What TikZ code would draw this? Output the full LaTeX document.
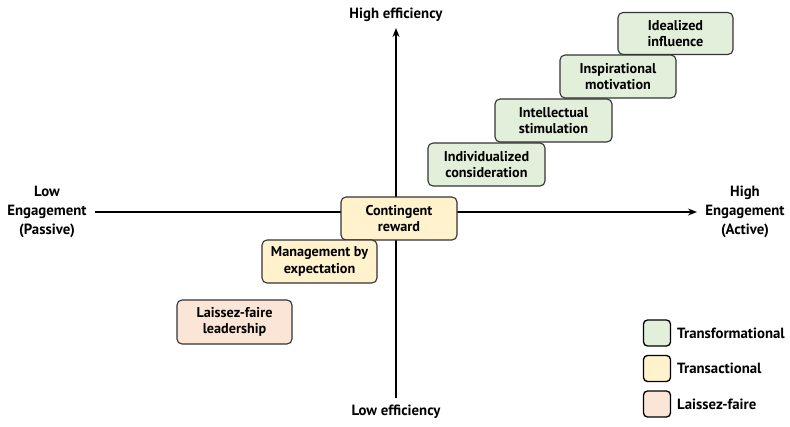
\documentclass[tikz,border=0pt]{standalone}
\usepackage{fontspec}
\setmainfont{PT Sans}
\usetikzlibrary{arrows.meta}
\definecolor{tgreen}{HTML}{E2EFDA}
\definecolor{tyellow}{HTML}{FFF2CC}
\definecolor{tpeach}{HTML}{FBE5D6}
\definecolor{bord}{HTML}{333333}
\tikzset{
  box/.style={draw=bord, line width=1.1pt, rounded corners=5pt, align=center,
    font=\bfseries\fontsize{14.2}{16.5}\selectfont, inner sep=0pt},
  axis/.style={line width=1.8pt, -{Stealth[length=9pt,width=7pt]}},
  lbl/.style={align=center, font=\bfseries\fontsize{14.8}{19}\selectfont, inner sep=0pt},
  legbox/.style={draw=black, line width=1.3pt, rounded corners=4pt, minimum width=27pt, minimum height=26pt, inner sep=0pt},
  legtxt/.style={anchor=west, font=\bfseries\fontsize{14.8}{17}\selectfont, inner sep=0pt}
}
\begin{document}
\begin{tikzpicture}[x=1pt,y=-1pt]
\useasboundingbox (0,0) rectangle (790,426);
% axis labels
\node[lbl] (he) at (396,15) {High efficiency};
\node[lbl] (le) at (396,412) {Low efficiency};
\node[lbl] (lo) at (47,212) {Low\\Engagement\\(Passive)};
\node[lbl] (hi) at (745,212) {High\\Engagement\\(Active)};
\coordinate (vb) at (396,398);
\coordinate (vt) at (396,28);
\coordinate (hl) at (95,212);
\coordinate (hr) at (697,212);
\draw[axis] (vb) -- (vt);
\draw[axis] (hl) -- (hr);
% boxes
\node[box, fill=tgreen, minimum width=115pt, minimum height=42pt] (ii) at (675.5,33.5) {Idealized\\influence};
\node[box, fill=tgreen, minimum width=116pt, minimum height=43pt] (im) at (618,76.5) {Inspirational\\motivation};
\node[box, fill=tgreen, minimum width=117pt, minimum height=43pt] (is) at (553.5,120.5) {Intellectual\\stimulation};
\node[box, fill=tgreen, minimum width=117pt, minimum height=43pt] (ic) at (486.5,164.5) {Individualized\\consideration};
\node[box, fill=tyellow, minimum width=116pt, minimum height=43pt] (cr) at (399,218.5) {Contingent\\reward};
\node[box, fill=tyellow, minimum width=115pt, minimum height=43pt] (me) at (319.5,261.5) {Management by\\expectation};
\node[box, fill=tpeach, minimum width=115pt, minimum height=44pt] (lf) at (234.5,322) {Laissez-faire\\leadership};
% legend
\node[legbox, fill=tgreen] (lg1) at (657,333) {};
\node[legbox, fill=tyellow] (lg2) at (657,368.5) {};
\node[legbox, fill=tpeach] (lg3) at (657,404) {};
\node[legtxt] (lt1) at (677,333) {Transformational};
\node[legtxt] (lt2) at (677,368.5) {Transactional};
\node[legtxt] (lt3) at (677,404) {Laissez-faire};
\end{tikzpicture}
\end{document}
